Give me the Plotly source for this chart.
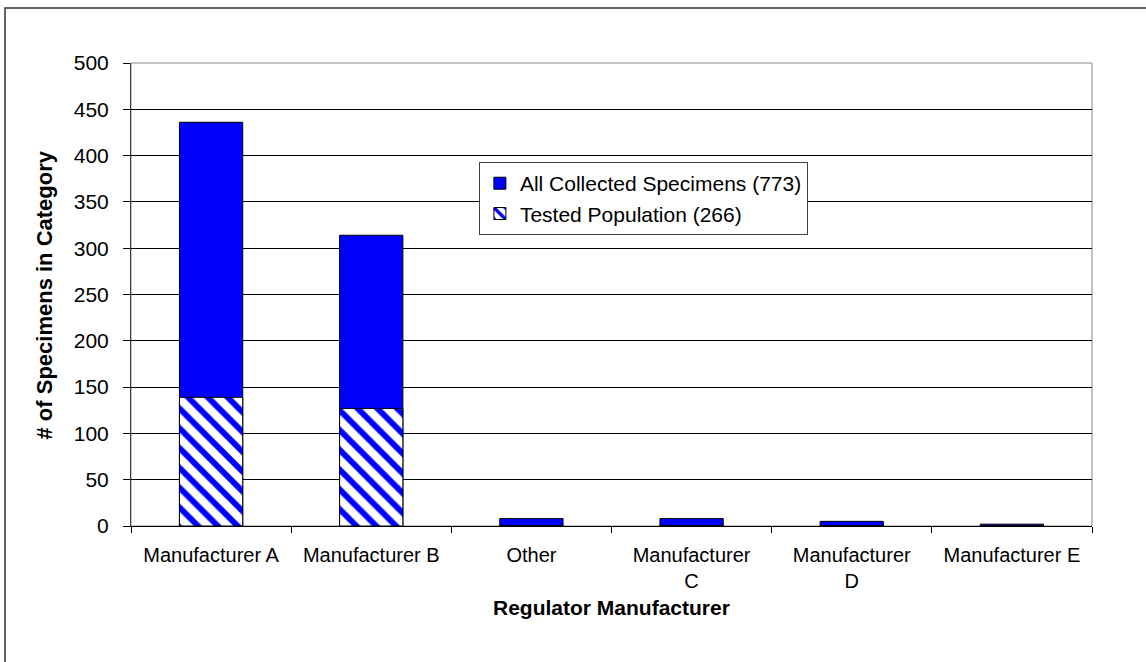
import plotly.graph_objects as go

categories = ["Manufacturer A", "Manufacturer B", "Other", "Manufacturer<br>C", "Manufacturer<br>D", "Manufacturer E"]
all_collected = [436, 314, 8, 8, 5, 2]
tested = [139, 127, 0, 0, 0, 0]
series_names = ["All Collected Specimens (773)", "Tested Population (266)"]
y_ticks = [0, 50, 100, 150, 200, 250, 300, 350, 400, 450, 500]
x_title = "Regulator Manufacturer"
y_title = "# of Specimens in Category"

FONT = "Liberation Sans, Arial, sans-serif"

fig = go.Figure()
fig.add_trace(go.Bar(
    x=categories, y=all_collected, name=series_names[0], width=0.395,
    marker=dict(color="#0000FF", line=dict(color="black", width=1)),
))
fig.add_trace(go.Bar(
    x=categories, y=tested, name=series_names[1], width=0.395,
    marker=dict(color="white", line=dict(color="black", width=1),
                pattern=dict(shape="\\", fgcolor="#0000FF", bgcolor="white",
                             size=14, solidity=0.42, fillmode="replace")),
))

fig.update_layout(
    width=1146, height=662,
    barmode="overlay",
    paper_bgcolor="white", plot_bgcolor="white",
    margin=dict(l=131, r=54, t=63, b=136),
    font=dict(family=FONT, size=20, color="black"),
    showlegend=True,
    legend=dict(x=0.362, y=0.786, xanchor="left", yanchor="top",
                bgcolor="white", bordercolor="#404040", borderwidth=1,
                font=dict(size=21), traceorder="normal",
                itemwidth=30),
    xaxis=dict(
        type="category", showgrid=False, tickson="boundaries",
        ticks="outside", ticklen=6, tickcolor="black",
        showline=True, linecolor="black", linewidth=1, mirror=False,
        tickfont=dict(size=20), ticklabelstandoff=11,
    ),
    yaxis=dict(
        range=[0, 500], tickvals=y_ticks, showgrid=True, gridcolor="black", gridwidth=1,
        ticks="outside", ticklen=7, tickcolor="black",
        showline=True, linecolor="#404040", linewidth=1, zeroline=False,
        tickfont=dict(size=21), ticklabelstandoff=10,
    ),
    annotations=[
        dict(text="<b>" + x_title + "</b>", xref="paper", yref="paper", x=0.5, y=-0.175,
             xanchor="center", yanchor="middle", showarrow=False, font=dict(size=21)),
        dict(text="<b>" + y_title + "</b>", xref="paper", yref="paper", x=-0.0895, y=0.5,
             xanchor="center", yanchor="middle", textangle=-90, showarrow=False, font=dict(size=22)),
    ],
    shapes=[
        dict(type="rect", xref="paper", yref="paper", x0=0, x1=1, y0=0, y1=1,
             line=dict(color="#888888", width=1), layer="below"),
        dict(type="rect", xref="paper", yref="paper", x0=-0.1311, x1=1.2, y0=-0.6, y1=1.1188,
             line=dict(color="#333333", width=1.5)),
    ],
)

fig.write_html("out.html", config={"displayModeBar": False},
               post_script="document.body.style.margin='0';")
